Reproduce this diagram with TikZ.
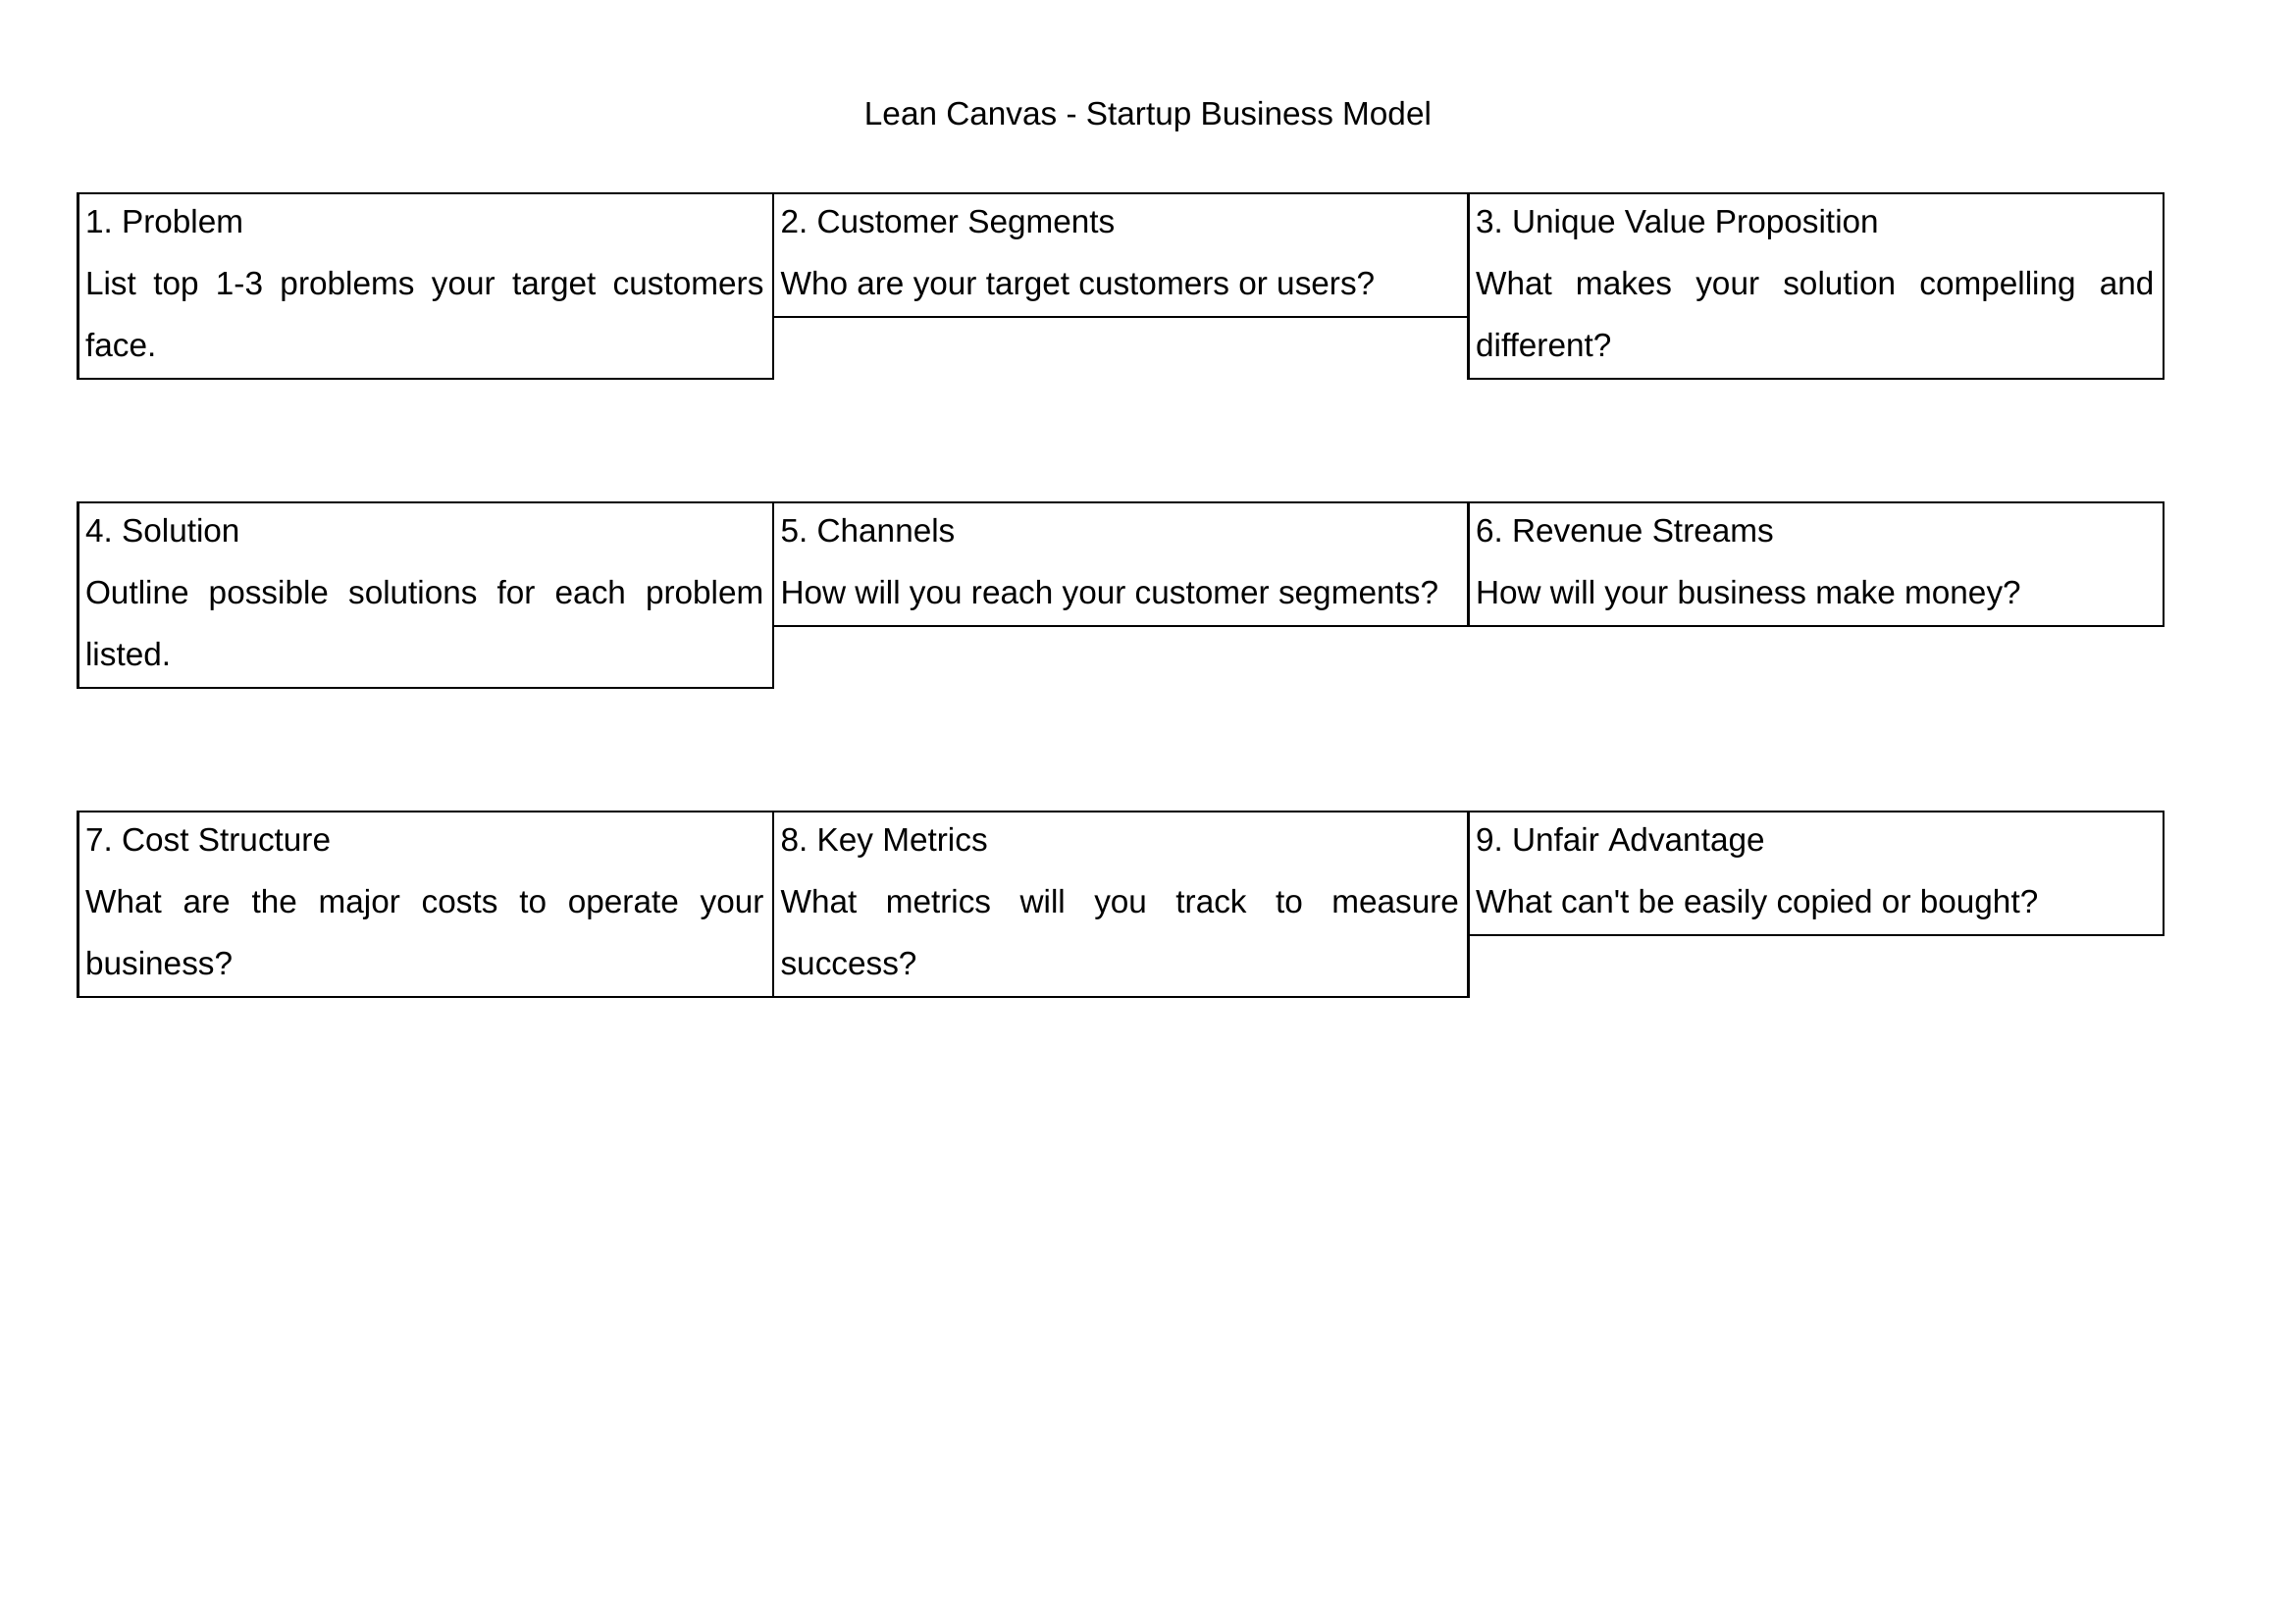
\documentclass[tikz,border=0pt]{standalone}
\usepackage{fontspec}
\setmainfont{Liberation Sans}[Ligatures=TeXOff]
\usetikzlibrary{calc}
\frenchspacing
\begin{document}
\begin{tikzpicture}[x=0.36pt,y=-0.36pt,
  cell/.style={draw=black, line width=0.9pt, anchor=north west, inner sep=0pt,
    minimum width=255.06pt},
  tall/.style={cell, minimum height=68.04pt},
  short/.style={cell, minimum height=45.36pt},
  txt/.style={anchor=base west, inner sep=0pt, font=\fontsize{12}{14}\selectfont},
  ttl/.style={anchor=base, inner sep=0pt, font=\fontsize{12}{14}\selectfont}]
\useasboundingbox (0,0) rectangle (2339,1654);
\newcommand{\jline}[1]{\makebox[248.94pt][s]{#1}}

\node[ttl] (title) at (1170,127) {Lean Canvas - Startup Business Model};

% row 1
\node[tall]  (p1) at (78,195.5)    {};
\node[short] (p2) at (786.5,195.5) {};
\node[tall]  (p3) at (1495,195.5)  {};
% row 2
\node[tall]  (p4) at (78,510.5)    {};
\node[short] (p5) at (786.5,510.5) {};
\node[short] (p6) at (1495,510.5)  {};
% row 3
\node[tall]  (p7) at (78,825.5)    {};
\node[tall]  (p8) at (786.5,825.5) {};
\node[short] (p9) at (1495,825.5)  {};

% texts
\node[txt] (p1a) at ($(p1.north west)+(8.5,41.5)$)  {1. Problem};
\node[txt] (p1b) at ($(p1.north west)+(8.5,104.5)$) {\jline{List top 1-3 problems your target customers}};
\node[txt] (p1c) at ($(p1.north west)+(8.5,167.5)$) {face.};

\node[txt] (p2a) at ($(p2.north west)+(8.5,41.5)$)  {2. Customer Segments};
\node[txt] (p2b) at ($(p2.north west)+(8.5,104.5)$) {Who are your target customers or users?};

\node[txt] (p3a) at ($(p3.north west)+(8.5,41.5)$)  {3. Unique Value Proposition};
\node[txt] (p3b) at ($(p3.north west)+(8.5,104.5)$) {\jline{What makes your solution compelling and}};
\node[txt] (p3c) at ($(p3.north west)+(8.5,167.5)$) {different?};

\node[txt] (p4a) at ($(p4.north west)+(8.5,41.5)$)  {4. Solution};
\node[txt] (p4b) at ($(p4.north west)+(8.5,104.5)$) {\jline{Outline possible solutions for each problem}};
\node[txt] (p4c) at ($(p4.north west)+(8.5,167.5)$) {listed.};

\node[txt] (p5a) at ($(p5.north west)+(8.5,41.5)$)  {5. Channels};
\node[txt] (p5b) at ($(p5.north west)+(8.5,104.5)$) {How will you reach your customer segments?};

\node[txt] (p6a) at ($(p6.north west)+(8.5,41.5)$)  {6. Revenue Streams};
\node[txt] (p6b) at ($(p6.north west)+(8.5,104.5)$) {How will your business make money?};

\node[txt] (p7a) at ($(p7.north west)+(8.5,41.5)$)  {7. Cost Structure};
\node[txt] (p7b) at ($(p7.north west)+(8.5,104.5)$) {\jline{What are the major costs to operate your}};
\node[txt] (p7c) at ($(p7.north west)+(8.5,167.5)$) {business?};

\node[txt] (p8a) at ($(p8.north west)+(8.5,41.5)$)  {8. Key Metrics};
\node[txt] (p8b) at ($(p8.north west)+(8.5,104.5)$) {\jline{What metrics will you track to measure}};
\node[txt] (p8c) at ($(p8.north west)+(8.5,167.5)$) {success?};

\node[txt] (p9a) at ($(p9.north west)+(8.5,41.5)$)  {9. Unfair Advantage};
\node[txt] (p9b) at ($(p9.north west)+(8.5,104.5)$) {What can't be easily copied or bought?};
\end{tikzpicture}
\end{document}
